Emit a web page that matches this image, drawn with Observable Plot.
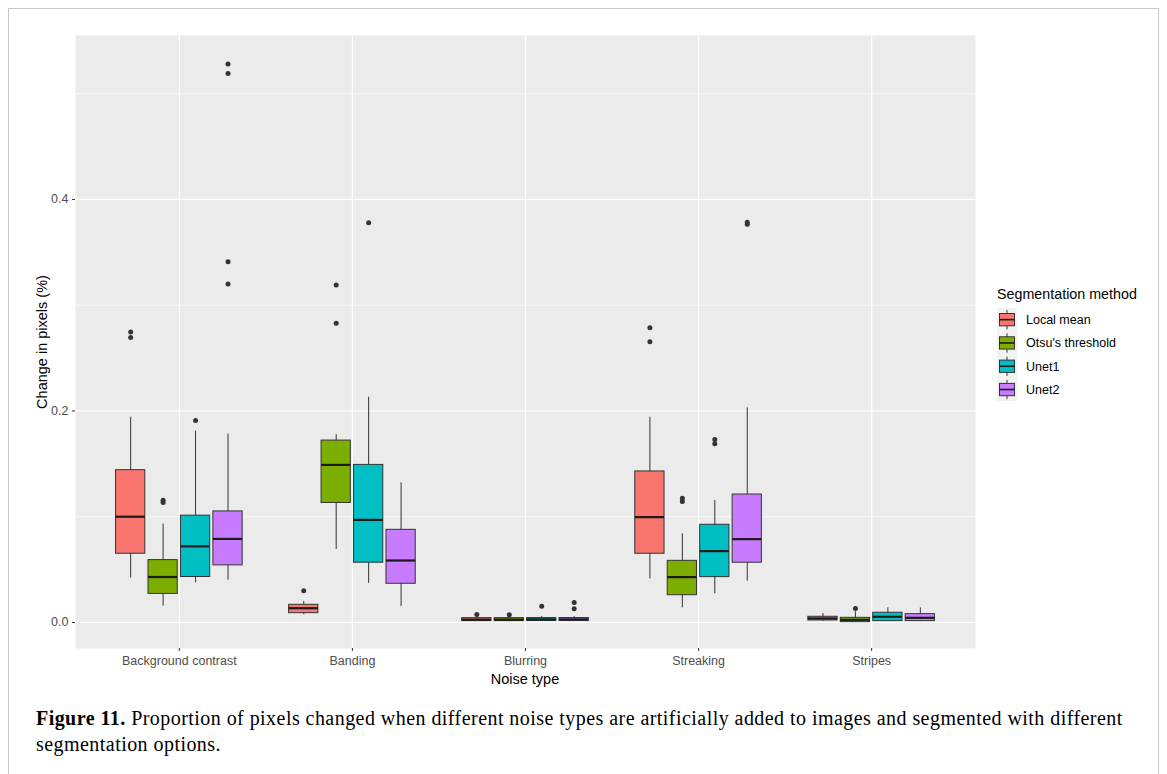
<!DOCTYPE html>
<html>
<head>
<meta charset="utf-8">
<script src="https://cdn.jsdelivr.net/npm/d3@7"></script>
<script src="https://cdn.jsdelivr.net/npm/@observablehq/plot@0.6"></script>
<style>
  body { margin: 0; background: #fff; font-family: "Liberation Sans", Arial, sans-serif; }
  #wrap { position: relative; width: 1167px; height: 774px; overflow: hidden; background: #fff; }
  #border { position: absolute; left: 8px; top: 8px; width: 1151px; height: 800px; border: 1px solid #c8c8c8; box-sizing: border-box; }
  #chart { position: absolute; left: 0; top: 0; }
  #ytitle { position: absolute; left: 42px; top: 342px; transform: translate(-50%, -50%) rotate(-90deg); font-size: 14.5px; color: #000; white-space: nowrap; }
  #xtitle { position: absolute; left: 525px; top: 679px; transform: translate(-50%, -50%); font-size: 14.5px; color: #000; white-space: nowrap; }
  #legend { position: absolute; left: 997px; top: 286px; }
  #legend .title { font-size: 14.3px; color: #000; margin-bottom: 6px; white-space: nowrap; }
  #caption { position: absolute; left: 36px; top: 705px; width: 1120px; font-family: "Liberation Serif", "Times New Roman", serif; font-size: 20px; letter-spacing: 0.45px; line-height: 26px; color: #000; white-space: nowrap; }
</style>
</head>
<body>
<div id="wrap">
  <div id="border"></div>
  <div id="chart"></div>
  <div id="ytitle">Change in pixels (%)</div>
  <div id="xtitle">Noise type</div>
  <div id="legend"><div class="title">Segmentation method</div><div id="keys"></div></div>
  <div id="caption"><b>Figure 11.</b> Proportion of pixels changed when different noise types are artificially added to images and segmented with different<br>segmentation options.</div>
</div>
<script>
// ---- data ----
const noiseTypes = ["Background contrast", "Banding", "Blurring", "Streaking", "Stripes"];
const methods = ["Local mean", "Otsu's threshold", "Unet1", "Unet2"];
const colors = ["#F8766D", "#7CAE00", "#00BFC4", "#C77CFF"];

// order: for each noise type, the 4 methods
const whiskerLow = [
  0.042, 0.0155, 0.0375, 0.040,
  0.0073, 0.069, 0.037, 0.015,
  0.0008, 0.0008, 0.0010, 0.0010,
  0.0413, 0.0139, 0.0271, 0.039,
  0.0010, 0.0002, 0.0008, 0.0008
];
const quart1 = [
  0.065, 0.027, 0.043, 0.054,
  0.0088, 0.113, 0.0565, 0.0366,
  0.0013, 0.0013, 0.0015, 0.0015,
  0.065, 0.0258, 0.0429, 0.0565,
  0.0019, 0.0003, 0.0013, 0.0013
];
const medians = [
  0.100, 0.043, 0.072, 0.079,
  0.0135, 0.149, 0.097, 0.0586,
  0.0027, 0.0027, 0.0029, 0.0029,
  0.0996, 0.0429, 0.0675, 0.0788,
  0.0038, 0.0025, 0.0054, 0.0044
];
const quart3 = [
  0.144, 0.059, 0.101, 0.105,
  0.0167, 0.172, 0.149, 0.0876,
  0.0041, 0.0041, 0.0042, 0.0042,
  0.1428, 0.0583, 0.0924, 0.121,
  0.0054, 0.0044, 0.0092, 0.0079
];
const whiskerHigh = [
  0.194, 0.093, 0.181, 0.178,
  0.0199, 0.1775, 0.213, 0.132,
  0.0060, 0.0058, 0.0055, 0.0055,
  0.194, 0.0839, 0.1154, 0.203,
  0.0085, 0.0101, 0.0139, 0.0139
];
// outliers: [noise type index, method index, value]
const outliers = [
  [0, 0, 0.2746], [0, 0, 0.2695],
  [0, 1, 0.1155], [0, 1, 0.1135],
  [0, 2, 0.191],
  [0, 3, 0.528], [0, 3, 0.519], [0, 3, 0.341], [0, 3, 0.320],
  [1, 0, 0.030],
  [1, 1, 0.319], [1, 1, 0.283],
  [1, 2, 0.378],
  [2, 0, 0.0076], [2, 1, 0.0073], [2, 2, 0.0154], [2, 3, 0.0189], [2, 3, 0.013],
  [3, 0, 0.2787], [3, 0, 0.2654],
  [3, 1, 0.1175], [3, 1, 0.1145],
  [3, 2, 0.173], [3, 2, 0.169],
  [3, 3, 0.3785], [3, 3, 0.3765],
  [4, 1, 0.0132]
];
const majorTicks = [0, 0.2, 0.4];
const minorTicks = [0.1, 0.3, 0.5];

// ---- build tables ----
const dodge = 0.1875;      // slot width per method within a group
const halfW = 0.0845;      // half box width
const pos = (i, j) => i + (j - 1.5) * dodge;
const boxes = [];
noiseTypes.forEach((n, i) => methods.forEach((m, j) => {
  const k = i * 4 + j;
  boxes.push({ noise: n, method: m, x: pos(i, j), lo: whiskerLow[k], q1: quart1[k], med: medians[k], q3: quart3[k], hi: whiskerHigh[k] });
}));
const outRows = outliers.map(([i, j, v]) => ({ x: pos(i, j), y: v }));

const chart = Plot.plot({
  width: 1167,
  height: 690,
  marginLeft: 75,
  marginRight: 192,
  marginTop: 35,
  marginBottom: 42,
  x: { domain: [-0.6, 4.6] },
  y: { domain: [-0.0246, 0.555] },
  color: { domain: methods, range: colors },
  style: { fontFamily: "'Liberation Sans', Arial, sans-serif", fontSize: "12.5px", color: "#4d4d4d", background: "transparent" },
  marks: [
    Plot.frame({ fill: "#EBEBEB", stroke: "none" }),
    Plot.ruleY(minorTicks, { stroke: "#fff", strokeWidth: 0.6 }),
    Plot.ruleY(majorTicks, { stroke: "#fff", strokeWidth: 1.2 }),
    Plot.ruleX(d3.range(noiseTypes.length), { stroke: "#fff", strokeWidth: 1.2 }),
    Plot.ruleX(boxes, { x: "x", y1: "lo", y2: "hi", stroke: "#333", strokeWidth: 1 }),
    Plot.rect(boxes, { x1: d => d.x - halfW, x2: d => d.x + halfW, y1: "q1", y2: "q3", fill: "method", stroke: "#333", strokeWidth: 1 }),
    Plot.ruleY(boxes, { y: "med", x1: d => d.x - halfW, x2: d => d.x + halfW, stroke: "#1a1a1a", strokeWidth: 2.2 }),
    Plot.dot(outRows, { x: "x", y: "y", r: 2.5, fill: "#333", stroke: "none" }),
    Plot.axisX({ ticks: d3.range(noiseTypes.length), tickFormat: i => noiseTypes[i], tickSize: 3, tickPadding: 5, label: null, stroke: "#333", fill: "#4d4d4d" }),
    Plot.axisY({ ticks: majorTicks, tickFormat: d3.format(".1f"), tickSize: 3, tickPadding: 4, label: null, stroke: "#333", fill: "#4d4d4d" })
  ]
});
document.getElementById("chart").appendChild(chart);

// ---- legend ----
const kw = 20, kh = 23.3;
const keys = d3.select("#keys").append("svg")
  .attr("width", 160).attr("height", kh * methods.length + 2)
  .style("display", "block").style("overflow", "visible");
methods.forEach((m, j) => {
  const g = keys.append("g").attr("transform", `translate(0,${j * kh})`);
  g.append("rect").attr("x", 0).attr("y", 0).attr("width", kw).attr("height", kh).attr("fill", "#F2F2F2");
  g.append("line").attr("x1", kw / 2).attr("x2", kw / 2).attr("y1", 2).attr("y2", kh - 2).attr("stroke", "#333").attr("stroke-width", 1);
  g.append("rect").attr("x", 2.5).attr("y", 5.5).attr("width", kw - 5).attr("height", kh - 11)
    .attr("fill", colors[j]).attr("stroke", "#333").attr("stroke-width", 1);
  g.append("line").attr("x1", 2.5).attr("x2", kw - 2.5).attr("y1", kh / 2).attr("y2", kh / 2).attr("stroke", "#1a1a1a").attr("stroke-width", 1.6);
  g.append("text").attr("x", kw + 9).attr("y", kh / 2).attr("dy", "0.35em")
    .attr("font-size", 12.5).attr("fill", "#000").attr("font-family", "'Liberation Sans', Arial, sans-serif").text(m);
});
</script>
</body>
</html>
